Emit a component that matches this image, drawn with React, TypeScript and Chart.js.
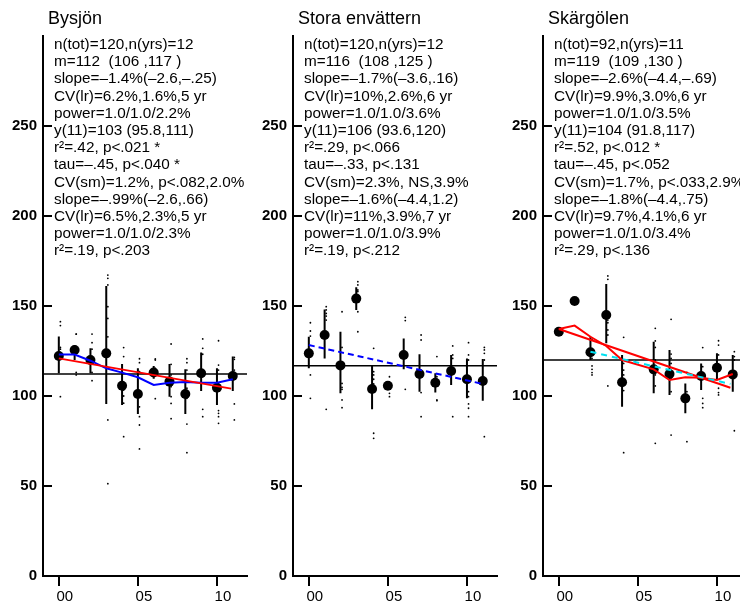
import React, { useEffect, useRef } from 'react';
import { Chart, registerables } from 'chart.js';
Chart.register(...registerables);

const FONT = "'Liberation Sans', Arial, Helvetica, sans-serif";

const years = [0, 1, 2, 3, 4, 5, 6, 7, 8, 9, 10, 11];
const xTickValues = [0, 5, 10];
const xTickLabels = ['00', '05', '10'];
const yTickValues = [0, 50, 100, 150, 200, 250];

// ---------- Panel 1: Bysjön ----------
const p1Title = 'Bysjön';
const p1Stats = [
  'n(tot)=120,n(yrs)=12',
  'm=112  (106 ,117 )',
  'slope=–1.4%(–2.6,–.25)',
  'CV(lr)=6.2%,1.6%,5 yr',
  'power=1.0/1.0/2.2%',
  'y(11)=103 (95.8,111)',
  'r²=.42, p<.021 *',
  'tau=–.45, p<.040 *',
  'CV(sm)=1.2%, p<.082,2.0%',
  'slope=–.99%(–2.6,.66)',
  'CV(lr)=6.5%,2.3%,5 yr',
  'power=1.0/1.0/2.3%',
  'r²=.19, p<.203',
];
const p1Means = [122.2, 125.6, 120, 123.7, 105.7, 101.1, 113.1, 108, 101.1, 112.6, 104.6, 111.1];
const p1Lo = [112.6, 120, 112.6, 95.6, 95, 90, 109.6, 99.6, 90, 102.8, 95, 102.8];
const p1Hi = [133, 128.3, 126.5, 161.1, 117.8, 115.4, 116.7, 117.8, 114.8, 124.1, 115.4, 121.9];
const p1Dots = [
  [141.3, 139.1, 127, 126, 99.6],
  [134.4, 134.4, 113.1, 111.7],
  [134.4, 129.6, 126, 121.9, 113.1, 108.5],
  [167.2, 165.4, 161.7, 149.6, 143.1, 132.9, 86.7, 51.3],
  [126.9, 121.9, 103.3, 100, 96, 77.4],
  [120.7, 118.5, 113.5, 100.5, 94, 88.5, 83.9, 70.6],
  [120.6, 120, 115.4, 98.5],
  [128.9, 117.6, 111.7, 105.2, 99.6, 95.9, 87.4],
  [120.7, 118.5, 114.4, 104.3, 98.7, 84.4, 68.5],
  [131.7, 126.5, 123.2, 92.6, 88.5],
  [130.7, 117.2, 114.4, 91.9, 90.4, 88.5, 84.8],
  [121.5, 120.4, 114.4, 95.6, 86.7],
];
const p1GrandMean = 112.2;
const p1RegX = [0, 10.9];
const p1RegY = [120.9, 104.1];
const p1SmoothY = [123, 123, 119.6, 115.4, 113, 110.4, 106.1, 107.4, 107.8, 107.4, 107.4, 109.3];

// ---------- Panel 2: Stora envättern ----------
const p2Title = 'Stora envättern';
const p2Stats = [
  'n(tot)=120,n(yrs)=12',
  'm=116  (108 ,125 )',
  'slope=–1.7%(–3.6,.16)',
  'CV(lr)=10%,2.6%,6 yr',
  'power=1.0/1.0/3.6%',
  'y(11)=106 (93.6,120)',
  'r²=.29, p<.066',
  'tau=–.33, p<.131',
  'CV(sm)=2.3%, NS,3.9%',
  'slope=–1.6%(–4.4,1.2)',
  'CV(lr)=11%,3.9%,7 yr',
  'power=1.0/1.0/3.9%',
  'r²=.19, p<.212',
];
const p2Means = [123.7, 133.9, 117, 154.1, 103.9, 105.7, 122.8, 112.2, 107.4, 113.9, 109.3, 108.3];
const p2Lo = [115.4, 120.9, 101.5, 147.8, 92.6, 103.7, 114.8, 102.4, 102, 106.1, 98.7, 97.4];
const p2Hi = [132.9, 148.1, 135.7, 160.4, 116.7, 108, 132, 123.2, 112.6, 122.8, 120.9, 120.6];
const p2Dots = [
  [140.7, 136.1, 133.3, 111.7, 98.7],
  [149.6, 147.8, 145.9, 144.4, 142.2, 92.6],
  [146.8, 127, 107, 104.8, 103.7, 97.8, 93.5],
  [163.5, 161.7, 158.9, 158, 146.8, 135.7],
  [126.5, 113.5, 111.7, 109.3, 106.7, 79.3, 76.5],
  [110.7, 106.1, 101.5, 99.6],
  [143.7, 141.9, 103.7],
  [133.9, 131.1, 110.7, 101.9, 88.5],
  [121.9, 110.7, 97.8, 97.4],
  [127.8, 122.8, 120.9, 88.5],
  [129.6, 122.8, 120, 102.4, 99.6, 95.6, 93.2, 88.5],
  [127, 125.6, 123.7, 120, 77.4],
];
const p2GrandMean = 116.8;
const p2RegX = [0, 11];
const p2RegY = [128.3, 106.7];

// ---------- Panel 3: Skärgölen ----------
const p3Title = 'Skärgölen';
const p3Stats = [
  'n(tot)=92,n(yrs)=11',
  'm=119  (109 ,130 )',
  'slope=–2.6%(–4.4,–.69)',
  'CV(lr)=9.9%,3.0%,6 yr',
  'power=1.0/1.0/3.5%',
  'y(11)=104 (91.8,117)',
  'r²=.52, p<.012 *',
  'tau=–.45, p<.052',
  'CV(sm)=1.7%, p<.033,2.9%',
  'slope=–1.8%(–4.4,.75)',
  'CV(lr)=9.7%,4.1%,6 yr',
  'power=1.0/1.0/3.4%',
  'r²=.29, p<.136',
];
const p3Means = [135.7, 152.8, 124.3, 145, 107.6, null, 114.8, 112.2, 98.7, 111.1, 115.7, 112];
const p3Lo = [null, null, 120, 129.3, 94, null, 101.5, 100.6, 90.4, 103.3, 109.3, 102.4];
const p3Hi = [null, null, 132.9, 162.2, 122.8, null, 130.2, 125.6, 107, 118.1, 123.7, 122.8];
const p3Dots = [
  [],
  [],
  [131.5, 120.9, 116.7, 114.8, 113, 111.7],
  [166.7, 164.8, 142.2, 140.7, 136.7, 133.9, 105.6],
  [132.6, 118.1, 114.4, 111.7, 103, 68.5],
  [],
  [137.6, 130.6, 127, 120, 111.7, 105.6, 73.7],
  [142.6, 123.3, 120.9, 118.1, 109.8, 102.4, 78.3],
  [113.1, 102.4, 74.6],
  [126.9, 116.3, 111.7, 98.7, 95.9, 93.5],
  [130.7, 128.3, 122.8, 104.3, 101.9, 100.6],
  [124.6, 121.9, 120, 112.6, 109.8, 80.7],
];
const p3GrandMean = 120;
const p3RegX = [0, 10.85];
const p3RegY = [137.2, 104.6];
const p3SmoothY = [137.2, 139.1, 132.9, 127.8, 120, null, 114.8, 108.9, 110.4, 110.2, 108.9, 112.2];
const p3CyanX = [2, 10.85];
const p3CyanY = [124.6, 106.7];

const X_MIN = -1;
const X_MAX = 11.9;
const DOT_SHIFT = 0.1;

type Line = { xs: number[]; ys: (number | null)[]; color: string; dash?: number[]; width?: number };
type Panel = {
  title: string;
  stats: string[];
  means: (number | null)[];
  lo: (number | null)[];
  hi: (number | null)[];
  dots: number[][];
  grand: number;
  lines: Line[];
};

const panels: Panel[] = [
  {
    title: p1Title, stats: p1Stats, means: p1Means, lo: p1Lo, hi: p1Hi, dots: p1Dots, grand: p1GrandMean,
    lines: [
      { xs: p1RegX, ys: p1RegY, color: '#ff0000' },
      { xs: years, ys: p1SmoothY, color: '#0000ff' },
    ],
  },
  {
    title: p2Title, stats: p2Stats, means: p2Means, lo: p2Lo, hi: p2Hi, dots: p2Dots, grand: p2GrandMean,
    lines: [{ xs: p2RegX, ys: p2RegY, color: '#0000ff', dash: [6, 4] }],
  },
  {
    title: p3Title, stats: p3Stats, means: p3Means, lo: p3Lo, hi: p3Hi, dots: p3Dots, grand: p3GrandMean,
    lines: [
      { xs: p3CyanX, ys: p3CyanY, color: '#00e0f0', dash: [6, 5] },
      { xs: p3RegX, ys: p3RegY, color: '#ff0000' },
      { xs: years, ys: p3SmoothY, color: '#ff0000' },
    ],
  },
];

const inwardTicks = {
  id: 'inwardTicks',
  afterDraw(chart: any) {
    const { ctx, chartArea, scales } = chart;
    const y = scales.y;
    ctx.save();
    ctx.strokeStyle = '#000';
    ctx.lineWidth = 2;
    yTickValues.forEach((v) => {
      const py = Math.round(y.getPixelForValue(v));
      ctx.beginPath();
      ctx.moveTo(chartArea.left, py);
      ctx.lineTo(chartArea.left + 9, py);
      ctx.stroke();
    });
    ctx.restore();
  },
};

function buildDatasets(p: Panel) {
  const ds: any[] = [];
  p.lines.forEach((l) => {
    ds.push({
      data: l.xs.map((x, i) => ({ x, y: l.ys[i] })),
      showLine: true,
      spanGaps: true,
      borderColor: l.color,
      borderWidth: l.width ?? 2,
      borderDash: l.dash ?? [],
      pointRadius: 0,
      fill: false,
      tension: 0,
    });
  });
  ds.push({
    data: years.map((x, i) => ({ x, y: p.means[i] })).filter((d) => d.y !== null),
    showLine: false,
    pointRadius: 5,
    pointBackgroundColor: '#000',
    pointBorderWidth: 0,
    borderColor: '#000',
  });
  const ci: any[] = [];
  years.forEach((x, i) => {
    if (p.lo[i] === null || p.hi[i] === null) return;
    ci.push({ x, y: p.lo[i] }, { x, y: p.hi[i] }, { x, y: null });
  });
  ds.push({
    data: ci,
    showLine: true,
    spanGaps: false,
    borderColor: '#000',
    borderWidth: 2,
    pointRadius: 0,
  });
  ds.push({
    data: [{ x: X_MIN, y: p.grand }, { x: X_MAX, y: p.grand }],
    showLine: true,
    borderColor: '#000',
    borderWidth: 1.6,
    pointRadius: 0,
  });
  const dots: any[] = [];
  p.dots.forEach((vals, i) => vals.forEach((v) => dots.push({ x: years[i] + DOT_SHIFT, y: v })));
  ds.push({
    data: dots,
    showLine: false,
    pointRadius: 0.9,
    pointBackgroundColor: '#000',
    pointBorderWidth: 0,
    borderColor: '#000',
  });
  return ds;
}

function PanelChart({ p, left }: { p: Panel; left: number }) {
  const ref = useRef<HTMLCanvasElement>(null);
  useEffect(() => {
    if (!ref.current) return;
    const chart = new Chart(ref.current, {
      type: 'scatter',
      data: { datasets: buildDatasets(p) },
      plugins: [inwardTicks],
      options: {
        animation: false,
        responsive: false,
        maintainAspectRatio: false,
        events: [],
        layout: { padding: { top: 36, right: 1, left: 0, bottom: 0 } },
        plugins: { legend: { display: false }, tooltip: { enabled: false } },
        scales: {
          x: {
            type: 'linear',
            min: X_MIN,
            max: X_MAX,
            afterBuildTicks: (s: any) => {
              s.ticks = xTickValues.map((v) => ({ value: v }));
            },
            afterFit: (s: any) => {
              s.height = 29;
            },
            ticks: {
              autoSkip: false,
              maxRotation: 0,
              color: '#000',
              padding: 2,
              labelOffset: 6,
              font: { family: FONT, size: 15 },
              callback: (v: any) => {
                const i = xTickValues.indexOf(Number(v));
                return i >= 0 ? xTickLabels[i] : '';
              },
            },
            grid: { display: true, drawOnChartArea: false, drawTicks: true, tickLength: 10, color: '#000', lineWidth: 2 },
            border: { display: true, color: '#000', width: 2 },
          },
          y: {
            type: 'linear',
            min: 0,
            max: 300,
            afterBuildTicks: (s: any) => {
              s.ticks = yTickValues.map((v) => ({ value: v }));
            },
            afterFit: (s: any) => {
              s.width = 43;
            },
            ticks: {
              autoSkip: false,
              color: '#000',
              padding: 6,
              font: { family: FONT, size: 15, weight: 'bold' },
            },
            grid: { display: false, drawTicks: false },
            border: { display: true, color: '#000', width: 2 },
          },
        },
      } as any,
    });
    return () => chart.destroy();
  }, [p]);
  return (
    <div style={{ position: 'absolute', left, top: 0, width: 252, height: 605 }}>
      <canvas ref={ref} width={252} height={605} style={{ position: 'absolute', left: 0, top: 0, width: 252, height: 605 }} />
      <div style={{ position: 'absolute', left: 48, top: 9, fontFamily: FONT, fontSize: 18, lineHeight: '18px', whiteSpace: 'pre', color: '#000' }}>
        {p.title}
      </div>
      <div style={{ position: 'absolute', left: 54, top: 35, fontFamily: FONT, fontSize: 15.3, lineHeight: '17.2px', whiteSpace: 'pre', color: '#000' }}>
        {p.stats.join('\n')}
      </div>
    </div>
  );
}

export default function App() {
  return (
    <div style={{ position: 'fixed', left: 0, top: 0, width: 740, height: 605, overflow: 'hidden', background: '#fff' }}>
      {panels.map((p, i) => (
        <PanelChart key={i} p={p} left={i * 250} />
      ))}
    </div>
  );
}
